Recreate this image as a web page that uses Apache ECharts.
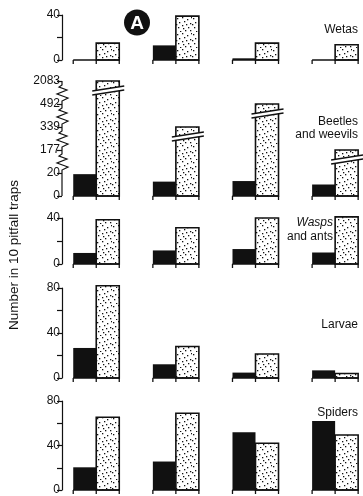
<!DOCTYPE html>
<html>
<head>
<meta charset="utf-8">
<script src="https://cdn.jsdelivr.net/npm/echarts@6/dist/echarts.min.js"></script>
<style>
html,body{margin:0;padding:0;background:#fff;}
#c{width:363px;height:496px;}
</style>
</head>
<body>
<div id="c"></div>
<script>
// ---- data ----
var sites = ['Site 1', 'Site 2', 'Site 3', 'Site 4'];
var panelNames = ['Wetas', 'Beetles and weevils', 'Wasps and ants', 'Larvae', 'Spiders'];
var wetasBlack = [0, 13, 1.5, 0];
var wetasDotted = [15, 39, 15, 13.5];
var beetlesBlack = [19, 12.5, 13, 10];
var beetlesDotted = [2083, 339, 492, 177];
var waspsBlack = [9.6, 11.8, 13, 10];
var waspsDotted = [38.5, 31.5, 40, 41];
var larvaeBlack = [26.7, 12.2, 4.8, 6.8];
var larvaeDotted = [82, 28, 21.3, 4];
var spidersBlack = [20.4, 25.6, 51.8, 62];
var spidersDotted = [65.4, 69, 42, 49.5];
var beetleTicks = [0, 20, 177, 339, 492, 2083];
var yTitle = 'Number in 10 pitfall traps';

// piecewise mapping for the broken beetle axis
function tf(v) {
  for (var k = 0; k < beetleTicks.length - 1; k++) {
    if (v <= beetleTicks[k + 1]) {
      return k + (v - beetleTicks[k]) / (beetleTicks[k + 1] - beetleTicks[k]);
    }
  }
  return beetleTicks.length - 1;
}

// stipple pattern
var pc = document.createElement('canvas');
pc.width = 16; pc.height = 16;
var g = pc.getContext('2d');
g.fillStyle = '#fff'; g.fillRect(0, 0, 16, 16);
g.fillStyle = '#111';
[[1,2],[6,1],[11,3],[14,7],[3,6],[8,5],[12,11],[2,11],[6,9],[9,14],[14,14],[4,15],[10,8],[15,1],[0,8],[7,12]].forEach(function (p) {
  g.fillRect(p[0], p[1], 1.3, 1.3);
});
var stipple = {image: pc, repeat: 'repeat'};

var INK = '#111';
var FONT = '"Liberation Sans", Arial, Helvetica, sans-serif';

function makeRender(broken) {
  return function (params, api) {
    var i = api.value(0), b = api.value(1), d = api.value(2);
    var base = api.coord([i, 0]);
    var unit = api.size([1, 0])[0];
    var w = unit * 0.289;
    var cx = base[0], y0 = base[1];
    var yb = api.coord([i, b])[1];
    var yd = api.coord([i, d])[1];
    var ch = [];
    if (y0 - yb > 0.2) {
      ch.push({type: 'rect', shape: {x: cx - w, y: yb, width: w, height: y0 - yb}, style: {fill: INK}});
    }
    ch.push({type: 'rect', shape: {x: cx, y: yd, width: w, height: y0 - yd}, style: {fill: stipple, stroke: INK, lineWidth: 1.6}});
    if (broken) {
      var xl = cx - 4, xr = cx + w + 5;
      ch.push({type: 'polygon', shape: {points: [[xl, yd + 10], [xr, yd + 5], [xr, yd + 9], [xl, yd + 14]]}, style: {fill: '#fff'}});
      ch.push({type: 'line', shape: {x1: xl, y1: yd + 10, x2: xr, y2: yd + 5}, style: {stroke: INK, lineWidth: 1.3}});
      ch.push({type: 'line', shape: {x1: xl, y1: yd + 14, x2: xr, y2: yd + 9}, style: {stroke: INK, lineWidth: 1.3}});
    }
    // baseline and ticks
    ch.push({type: 'line', shape: {x1: cx - w, y1: y0, x2: cx + w, y2: y0}, style: {stroke: INK, lineWidth: 1.5}});
    [cx - w, cx, cx + w].forEach(function (tx) {
      ch.push({type: 'line', shape: {x1: tx, y1: y0, x2: tx, y2: y0 + 4}, style: {stroke: INK, lineWidth: 1.3}});
    });
    return {type: 'group', children: ch};
  };
}

function zigRender(params, api) {
  var x = params.coordSys.x;
  var pts = [];
  var y = function (k) { return api.coord([0, k])[1]; };
  pts.push([x, y(0)], [x, y(1)]);
  for (var k = 1; k < beetleTicks.length - 1; k++) {
    var a = y(k);
    pts.push([x, a - 3], [x + 6, a - 6], [x - 5, a - 10], [x + 5, a - 14], [x - 3, a - 17], [x, a - 19], [x, y(k + 1)]);
  }
  return {type: 'polyline', shape: {points: pts}, style: {stroke: INK, lineWidth: 1.2, fill: null}};
}

var panels = [
  {black: wetasBlack, dotted: wetasDotted, max: 40, top: 15, height: 45},
  {black: beetlesBlack, dotted: beetlesDotted, broken: true, top: 81, height: 115},
  {black: waspsBlack, dotted: waspsDotted, max: 40, top: 218, height: 46},
  {black: larvaeBlack, dotted: larvaeDotted, max: 80, top: 288, height: 90},
  {black: spidersBlack, dotted: spidersDotted, max: 80, top: 401, height: 92}
];

var grids = [], xAxes = [], yAxes = [], series = [];
panels.forEach(function (p, n) {
  grids.push({left: 62, right: 0, top: p.top, height: p.height});
  xAxes.push({gridIndex: n, type: 'value', min: -0.43, max: 3.35, show: false});
  var y = {
    gridIndex: n, type: 'value', min: 0,
    axisLine: {show: !p.broken, onZero: false, lineStyle: {color: INK, width: 1.2}},
    axisTick: {show: true, length: 5, lineStyle: {color: INK, width: 1.2}},
    axisLabel: {color: INK, fontSize: 12, fontFamily: FONT, margin: 2},
    splitLine: {show: false}
  };
  if (p.broken) {
    y.max = beetleTicks.length - 1; y.interval = 1;
    y.axisLabel.formatter = function (v) { return String(beetleTicks[Math.round(v)]); };
  } else {
    y.max = p.max; y.interval = 20;
    y.axisLabel.formatter = function (v) { return v % 40 === 0 ? String(v) : ''; };
  }
  yAxes.push(y);
  var data = sites.map(function (s, i) {
    return p.broken ? [i, tf(p.black[i]), tf(p.dotted[i])] : [i, p.black[i], p.dotted[i]];
  });
  series.push({
    type: 'custom', xAxisIndex: n, yAxisIndex: n, data: data,
    encode: {x: 0, y: [1, 2]}, renderItem: makeRender(!!p.broken), silent: true
  });
  if (p.broken) {
    series.push({
      type: 'custom', xAxisIndex: n, yAxisIndex: n, data: [[0, 0, 0]],
      encode: {x: 0, y: [1, 2]}, renderItem: zigRender, silent: true
    });
  }
});

function label(text, x, y, opts) {
  var s = {text: text, fill: INK, font: (opts && opts.italic ? 'italic ' : '') + '12px ' + FONT, textAlign: 'right', textVerticalAlign: 'middle'};
  return {type: 'text', x: x, y: y, style: s, z: 10};
}

var chart = echarts.init(document.getElementById('c'), null, {renderer: 'canvas'});
chart.setOption({
  animation: false,
  backgroundColor: '#fff',
  grid: grids, xAxis: xAxes, yAxis: yAxes, series: series,
  graphic: [
    {type: 'circle', shape: {cx: 137, cy: 22.5, r: 13}, style: {fill: INK}},
    {type: 'text', x: 137, y: 23.5, style: {text: 'A', fill: '#fff', font: 'bold 19px ' + FONT, textAlign: 'center', textVerticalAlign: 'middle'}},
    label('Wetas', 358, 30),
    label('Beetles', 358, 122),
    label('and weevils', 358, 135),
    label('Wasps', 333, 223, {italic: true}),
    label('and ants', 333, 237),
    label('Larvae', 358, 325),
    label('Spiders', 358, 413),
    {type: 'text', x: 14, y: 255, rotation: Math.PI / 2,
     style: {text: yTitle, fill: INK, font: '13.5px ' + FONT, textAlign: 'center', textVerticalAlign: 'middle'}}
  ]
});
</script>
</body>
</html>
